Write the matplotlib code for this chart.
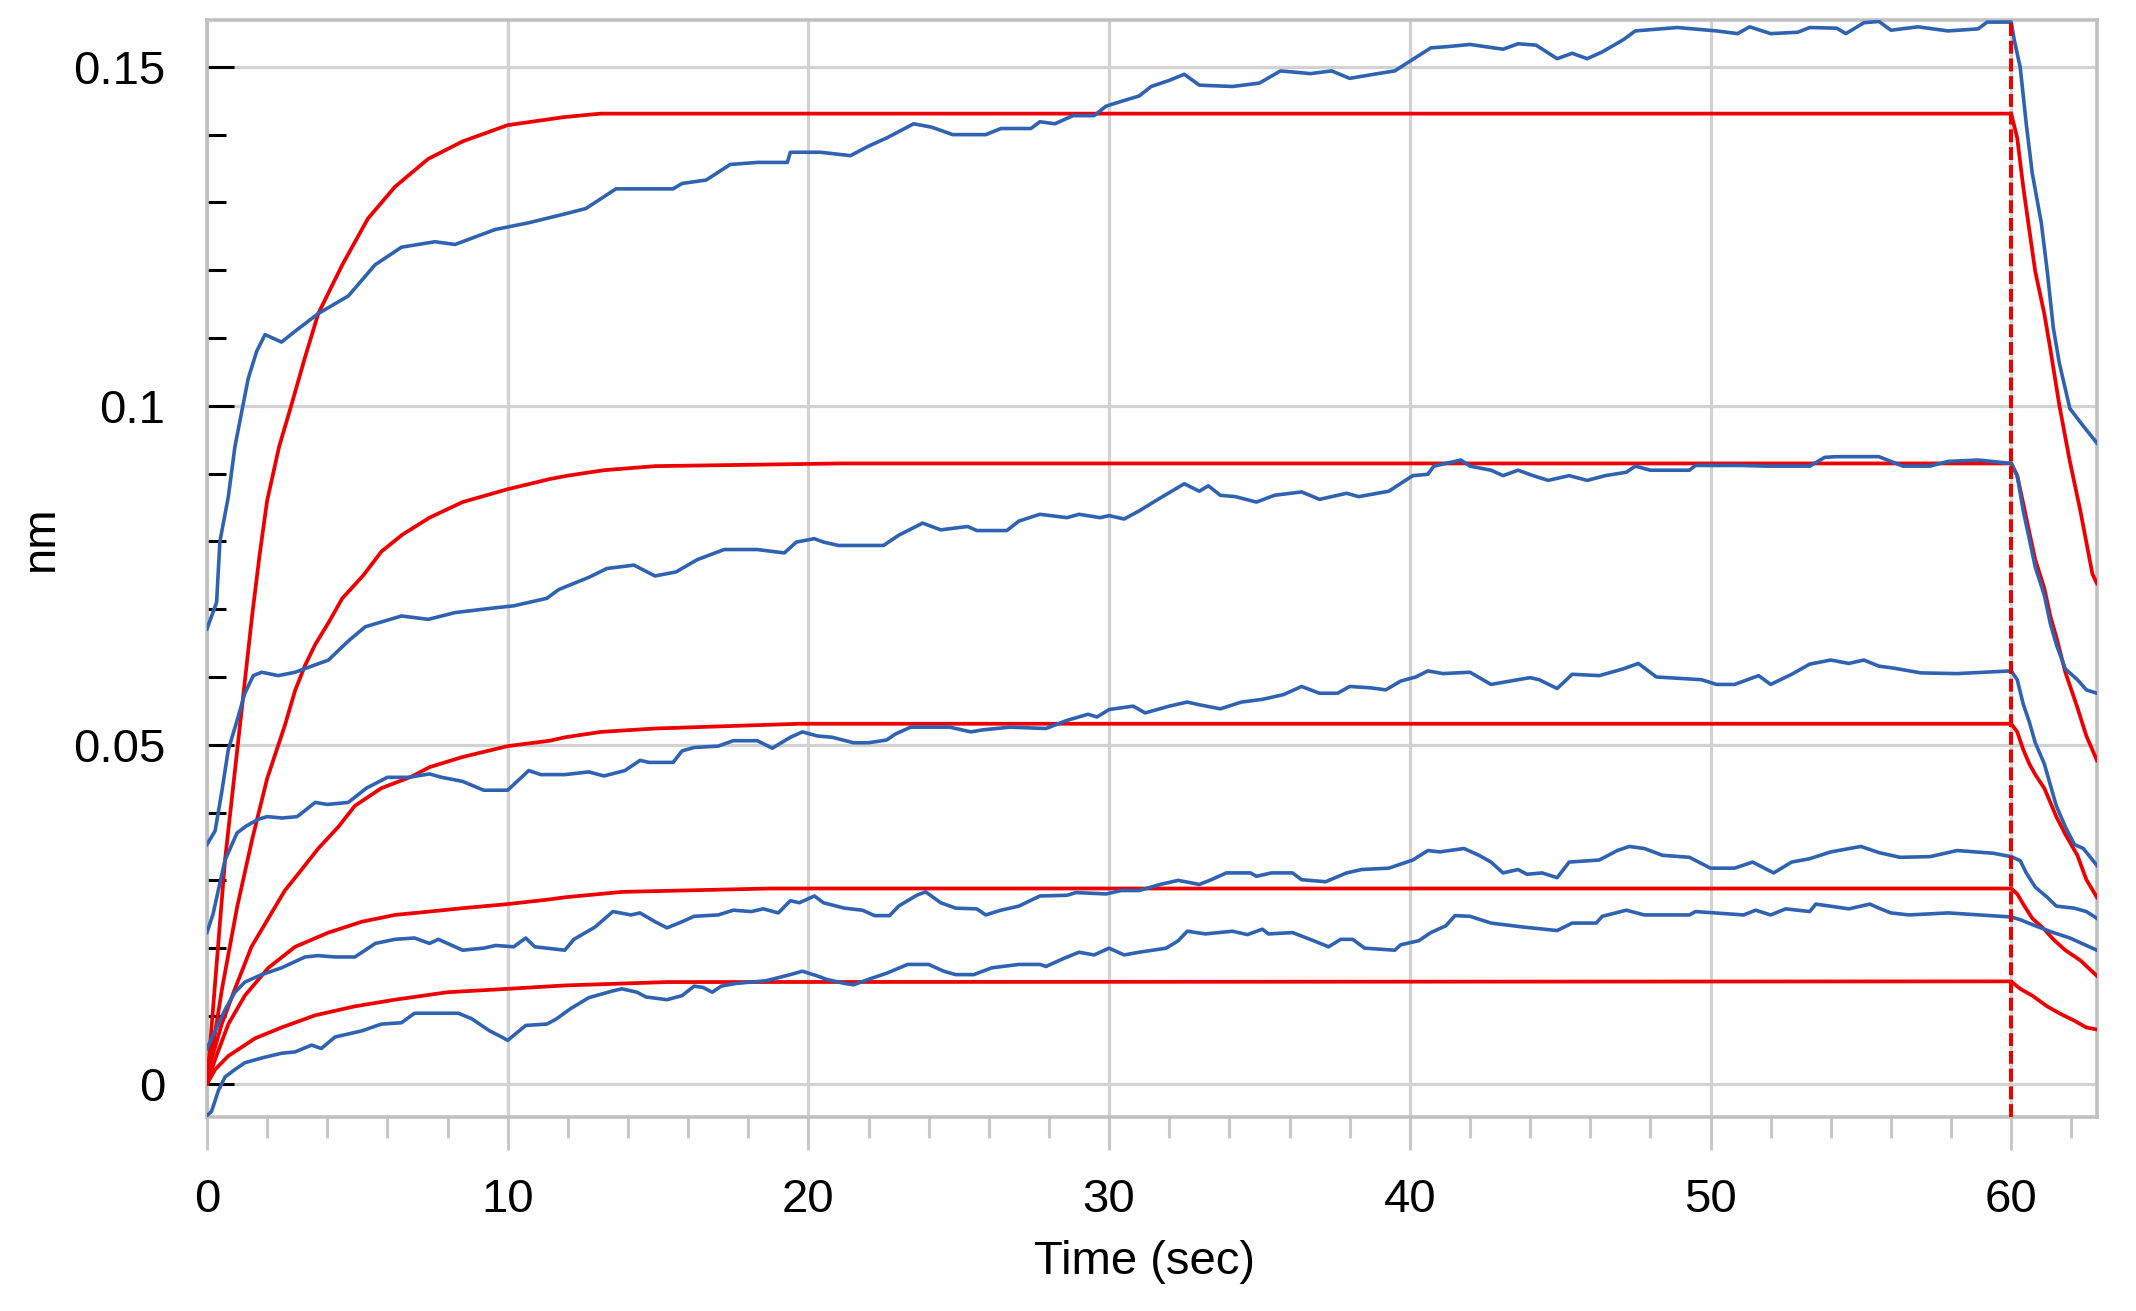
import matplotlib.pyplot as plt
from matplotlib.ticker import FixedLocator, MultipleLocator

plt.rcParams['font.family'] = ['Liberation Sans', 'DejaVu Sans']

b1_t = [0, 0.32, 0.43, 0.71, 0.93, 1.15, 1.37, 1.65, 1.93, 2.48, 2.93, 3.7, 4.7, 5.59, 6.47, 7.58, 8.25, 9.58,
        10.7, 11.9, 12.6, 13.6, 14.6, 15.5, 15.8, 16.6, 17.4, 18.3, 19.3, 19.4, 20.4, 21.4, 22.0, 22.6, 23.5,
        24.1, 24.8, 25.9, 26.4, 27.4, 27.7, 28.2, 28.8, 29.5, 29.9, 30.4, 31.0, 31.4, 32.0, 32.5, 33.0, 34.1,
        35.0, 35.7, 36.7, 37.4, 38.0, 38.8, 39.5, 40.1, 40.7, 41.3, 42.0, 43.1, 43.6, 44.2, 44.9, 45.4, 45.9,
        46.4, 47.1, 47.5, 48.9, 50.2, 50.9, 51.3, 52.0, 52.9, 53.3, 54.2, 54.5, 55.1, 55.6, 56.0, 56.9, 57.9,
        58.9, 59.2, 60.0, 60.1, 60.3, 60.5, 60.7, 61.0, 61.2, 61.4, 61.6, 61.95, 62.4, 62.85]
b1_v = [0.0671, 0.071, 0.080, 0.0866, 0.094, 0.099, 0.104, 0.108, 0.1105, 0.1094, 0.111, 0.1136, 0.1162, 0.1208,
        0.1234, 0.1242, 0.1238, 0.126, 0.127, 0.1283, 0.1291, 0.132, 0.132, 0.132, 0.1328, 0.1333, 0.1356,
        0.1359, 0.1359, 0.1374, 0.1374, 0.1369, 0.1383, 0.1395, 0.1416, 0.1411, 0.140, 0.140, 0.1409, 0.1409,
        0.1419, 0.1416, 0.1428, 0.1428, 0.1442, 0.1449, 0.1457, 0.1471, 0.148, 0.1489, 0.1473, 0.1471, 0.1476,
        0.1494, 0.149, 0.1494, 0.1483, 0.1489, 0.1494, 0.1511, 0.1528, 0.153, 0.1533, 0.1526, 0.1534, 0.1532,
        0.1512, 0.152, 0.1512, 0.1522, 0.154, 0.1553, 0.1558, 0.1553, 0.1549, 0.1559, 0.1549, 0.1551, 0.1558,
        0.1557, 0.1549, 0.1565, 0.1567, 0.1554, 0.1559, 0.1553, 0.1556, 0.1566, 0.1566, 0.154, 0.1499, 0.1416,
        0.1343, 0.127, 0.1198, 0.1115, 0.1063, 0.0996, 0.097, 0.0945]

b2_t = [0, 0.27, 0.49, 0.71, 0.99, 1.26, 1.54, 1.82, 2.37, 2.93, 4.04, 4.7, 5.26, 6.47, 7.36, 8.25, 9.58, 10.2,
        11.3, 11.7, 12.7, 13.3, 14.2, 14.9, 15.6, 16.3, 17.2, 18.3, 19.2, 19.6, 20.2, 20.5, 21.0, 22.5, 23.0,
        23.8, 24.4, 25.3, 25.6, 26.6, 27.0, 27.7, 28.6, 29.0, 29.7, 30.0, 30.5, 31.0, 31.7, 32.5, 33.0, 33.3,
        33.7, 34.2, 34.9, 35.5, 36.4, 37.0, 37.9, 38.3, 39.3, 40.1, 40.6, 40.8, 41.7, 42.0, 42.7, 43.1, 43.6,
        44.1, 44.6, 45.3, 45.9, 46.5, 47.2, 47.5, 48.0, 49.3, 49.5, 51.0, 51.9, 53.3, 53.8, 54.2, 55.6, 56.0,
        56.4, 57.3, 57.9, 58.9, 60.0, 60.2, 60.4, 60.6, 60.8, 61.1, 61.3, 61.5, 61.8, 62.2, 62.5, 62.85]
b2_v = [0.0353, 0.0373, 0.043, 0.0493, 0.0534, 0.0576, 0.0602, 0.0607, 0.0602, 0.0607, 0.0625, 0.0653, 0.0674,
        0.069, 0.0685, 0.0695, 0.0702, 0.0705, 0.0716, 0.0729, 0.0747, 0.076, 0.0765, 0.0749, 0.0755, 0.0773,
        0.0788, 0.0788, 0.0783, 0.0799, 0.0804, 0.0799, 0.0794, 0.0794, 0.0809, 0.0827, 0.0817, 0.0822, 0.0816,
        0.0816, 0.083, 0.084, 0.0835, 0.084, 0.0835, 0.0838, 0.0833, 0.0845, 0.0864, 0.0885, 0.0874, 0.0882,
        0.0868, 0.0866, 0.0858, 0.0868, 0.0873, 0.0862, 0.0871, 0.0866, 0.0874, 0.0897, 0.0899, 0.0911, 0.092,
        0.0911, 0.0905, 0.0897, 0.0905, 0.0897, 0.089, 0.0897, 0.089, 0.0897, 0.0902, 0.0911, 0.0905, 0.0905,
        0.0912, 0.0912, 0.0911, 0.0911, 0.0924, 0.0925, 0.0925, 0.0918, 0.0911, 0.0911, 0.0918, 0.092, 0.0915,
        0.0897, 0.0845, 0.0804, 0.0762, 0.0721, 0.0679, 0.0648, 0.0612, 0.0596, 0.0581, 0.0576]

b3_t = [0, 0.2, 0.4, 0.6, 0.8, 1.0, 1.3, 1.7, 2.0, 2.5, 3.0, 3.6, 4.0, 4.7, 5.3, 6.0, 6.7, 7.4, 7.8, 8.5, 9.2,
        10.0, 10.7, 11.1, 11.9, 12.7, 13.2, 13.9, 14.4, 14.7, 15.5, 15.8, 16.2, 17.0, 17.5, 18.3, 18.8, 19.4,
        19.8, 20.3, 20.8, 21.5, 22.0, 22.6, 22.9, 23.4, 24.7, 25.4, 25.8, 26.7, 27.9, 28.6, 29.3, 29.6, 30.0,
        30.8, 31.2, 32.0, 32.6, 33.0, 33.7, 34.4, 35.1, 35.8, 36.4, 37.0, 37.6, 38.0, 38.7, 39.2, 39.7, 40.2,
        40.6, 41.1, 42.0, 42.7, 43.6, 44.0, 44.3, 44.9, 45.4, 46.3, 47.1, 47.6, 48.2, 49.7, 50.2, 50.8, 51.6,
        52.0, 52.7, 53.3, 54.0, 54.6, 55.1, 55.6, 56.1, 57.0, 58.2, 60.0, 60.2, 60.4, 60.6, 60.8, 61.1, 61.3,
        61.5, 61.8, 62.1, 62.4, 62.85]
b3_v = [0.0223, 0.025, 0.029, 0.033, 0.035, 0.037, 0.038, 0.039, 0.0394, 0.0392, 0.0394, 0.0415, 0.0412, 0.0415,
        0.0436, 0.0452, 0.0452, 0.0457, 0.0452, 0.0446, 0.0433, 0.0433, 0.0462, 0.0456, 0.0456, 0.046, 0.0454,
        0.0462, 0.0477, 0.0474, 0.0474, 0.0491, 0.0496, 0.0498, 0.0506, 0.0506, 0.0495, 0.0511, 0.0519, 0.0513,
        0.0511, 0.0503, 0.0503, 0.0507, 0.0516, 0.0526, 0.0526, 0.0519, 0.0522, 0.0526, 0.0524, 0.0536, 0.0545,
        0.0541, 0.0552, 0.0557, 0.0547, 0.0557, 0.0563, 0.0559, 0.0553, 0.0563, 0.0567, 0.0574, 0.0586, 0.0576,
        0.0576, 0.0586, 0.0584, 0.0581, 0.0594, 0.06, 0.0609, 0.0605, 0.0607, 0.0589, 0.0596, 0.0599, 0.0596,
        0.0583, 0.0604, 0.0602, 0.0612, 0.062, 0.06, 0.0596, 0.0589, 0.0589, 0.0602, 0.0589, 0.0604, 0.0619,
        0.0625, 0.062, 0.0625, 0.0616, 0.0613, 0.0606, 0.0605, 0.0609, 0.0596, 0.056, 0.0534, 0.0503, 0.0472,
        0.0441, 0.041, 0.0379, 0.0353, 0.0347, 0.0322]

b4_t = [0, 0.27, 0.6, 0.93, 1.26, 1.82, 2.48, 3.26, 3.7, 4.26, 4.92, 5.6, 6.25, 6.9, 7.4, 7.7, 8.5, 9.2, 9.6,
        10.2, 10.6, 10.9, 11.9, 12.2, 12.9, 13.5, 14.1, 14.4, 14.9, 15.3, 15.8, 16.2, 17.0, 17.5, 18.1, 18.5,
        19.0, 19.4, 19.7, 20.2, 20.5, 21.2, 21.8, 22.2, 22.7, 23.0, 23.6, 23.9, 24.4, 24.9, 25.6, 25.9, 26.4,
        27.0, 27.7, 28.6, 28.9, 29.9, 30.4, 31.0, 31.7, 32.3, 33.0, 33.4, 33.9, 34.7, 34.9, 35.4, 36.1, 36.4,
        37.2, 37.9, 38.4, 39.3, 40.1, 40.6, 41.0, 41.8, 42.3, 42.7, 43.1, 43.6, 43.9, 44.4, 44.9, 45.3, 46.3,
        46.9, 47.3, 47.8, 48.4, 49.3, 50.0, 50.8, 51.4, 52.1, 52.7, 53.3, 54.0, 55.0, 55.6, 56.3, 57.3, 58.2,
        59.4, 60.0, 60.3, 60.5, 60.8, 61.2, 61.5, 62.1, 62.5, 62.85]
b4_v = [0.0052, 0.0078, 0.0109, 0.0135, 0.015, 0.0161, 0.0171, 0.0187, 0.0189, 0.0187, 0.0187, 0.0207, 0.0213,
        0.0215, 0.0207, 0.0213, 0.0197, 0.02, 0.0204, 0.0202, 0.0215, 0.0202, 0.0197, 0.0213, 0.0231, 0.0254,
        0.0249, 0.0252, 0.0239, 0.023, 0.0239, 0.0247, 0.0249, 0.0256, 0.0254, 0.0258, 0.0252, 0.027, 0.0267,
        0.0277, 0.0267, 0.0259, 0.0256, 0.0248, 0.0248, 0.0262, 0.0278, 0.0283, 0.0267, 0.0259, 0.0258, 0.0249,
        0.0256, 0.0262, 0.0277, 0.0278, 0.0282, 0.028, 0.0285, 0.0285, 0.0294, 0.03, 0.0294, 0.0301, 0.0311,
        0.0311, 0.0306, 0.0311, 0.0311, 0.0301, 0.0298, 0.0311, 0.0316, 0.0318, 0.033, 0.0344, 0.0342, 0.0347,
        0.0337, 0.0327, 0.0311, 0.0316, 0.0309, 0.0311, 0.0304, 0.0327, 0.033, 0.0344, 0.035, 0.0347, 0.0337,
        0.0334, 0.0318, 0.0318, 0.0327, 0.0311, 0.0327, 0.0332, 0.0342, 0.035, 0.0341, 0.0334, 0.0335, 0.0344,
        0.034, 0.0335, 0.0329, 0.0311, 0.029, 0.0275, 0.0262, 0.0259, 0.0254, 0.0244]

b5_t = [0, 0.15, 0.38, 0.6, 0.93, 1.26, 1.82, 2.48, 2.93, 3.48, 3.8, 4.26, 5.15, 5.8, 6.47, 6.9, 7.58, 8.36, 8.8,
        9.4, 9.8, 10.0, 10.6, 11.3, 11.6, 12.1, 12.7, 13.5, 13.8, 14.3, 14.6, 15.3, 15.8, 16.2, 16.5, 16.8,
        17.1, 17.6, 18.6, 19.4, 19.8, 20.3, 20.6, 21.2, 21.5, 22.0, 22.6, 23.3, 24.0, 24.5, 24.9, 25.5, 26.1,
        27.0, 27.7, 27.9, 28.5, 29.0, 29.5, 30.0, 30.5, 31.0, 31.9, 32.3, 32.6, 33.2, 34.1, 34.6, 35.1, 35.3,
        36.1, 36.8, 37.3, 37.7, 38.1, 38.5, 39.5, 39.7, 40.3, 40.7, 41.2, 41.5, 42.0, 42.7, 43.8, 44.9, 45.4,
        46.2, 46.4, 47.2, 47.8, 49.3, 49.5, 51.1, 51.5, 52.0, 52.5, 53.3, 53.5, 54.6, 55.3, 55.6, 56.0, 56.6,
        57.9, 60.0, 60.3, 60.8, 61.4, 61.95, 62.5, 62.85]
b5_v = [-0.0047, -0.0041, -0.001, 0.001, 0.0021, 0.0031, 0.0038, 0.0045, 0.0047, 0.0057, 0.0052, 0.0069, 0.0078,
        0.0088, 0.009, 0.0104, 0.0104, 0.0104, 0.0096, 0.0078, 0.0069, 0.0064, 0.0086, 0.0088, 0.0095, 0.0111,
        0.0127, 0.0137, 0.014, 0.0135, 0.0128, 0.0124, 0.013, 0.0144, 0.0142, 0.0135, 0.0144, 0.0148, 0.0152,
        0.0161, 0.0166, 0.0159, 0.0154, 0.0148, 0.0146, 0.0154, 0.0163, 0.0176, 0.0176, 0.0166, 0.0161, 0.0161,
        0.0171, 0.0176, 0.0176, 0.0173, 0.0185, 0.0194, 0.019, 0.02, 0.019, 0.0194, 0.02, 0.0211, 0.0225, 0.0221,
        0.0225, 0.022, 0.0228, 0.0221, 0.0223, 0.0211, 0.0202, 0.0213, 0.0213, 0.02, 0.0197, 0.0205, 0.0211,
        0.0223, 0.0233, 0.0248, 0.0247, 0.0237, 0.0231, 0.0226, 0.0237, 0.0237, 0.0247, 0.0256, 0.0249, 0.0249,
        0.0254, 0.0249, 0.0256, 0.0249, 0.0258, 0.0254, 0.0265, 0.0258, 0.0265, 0.0259, 0.0252, 0.0249, 0.0252,
        0.0246, 0.0242, 0.0233, 0.0223, 0.0215, 0.0204, 0.0197]

# fitted curves (red)
r1_t = [0, 0.2, 0.4, 0.6, 0.8, 1.0, 1.25, 1.5, 1.75, 2.0, 2.4, 2.8, 3.25, 3.7, 4.5, 5.35, 6.25, 7.35, 8.5, 10.0,
        11.9, 13.1, 60.0, 60.2, 60.4, 60.6, 60.8, 61.1, 61.3, 61.6, 61.95, 62.3, 62.7, 62.85]
r1_v = [0, 0.011, 0.022, 0.033, 0.041, 0.049, 0.059, 0.069, 0.078, 0.086, 0.094, 0.1, 0.107, 0.1136, 0.1208,
        0.1276, 0.1323, 0.1364, 0.139, 0.1414, 0.1426, 0.1431, 0.1431, 0.1395, 0.1323, 0.126, 0.1198, 0.1136,
        0.1084, 0.1001, 0.0918, 0.0845, 0.0752, 0.0738]

r2_t = [0, 0.5, 1.0, 1.5, 2.0, 2.3, 2.6, 2.93, 3.26, 3.6, 4.04, 4.5, 5.2, 5.8, 6.5, 7.4, 8.5, 10.0, 11.4, 12.0,
        13.2, 14.9, 21.1, 60.0, 60.2, 60.4, 60.6, 60.8, 61.1, 61.3, 61.5, 61.8, 62.2, 62.5, 62.85]
r2_v = [0, 0.014, 0.026, 0.036, 0.045, 0.049, 0.053, 0.058, 0.0617, 0.0648, 0.068, 0.0716, 0.075, 0.0785, 0.081,
        0.0835, 0.0858, 0.0877, 0.0892, 0.0897, 0.0905, 0.0911, 0.0915, 0.0915, 0.0897, 0.0856, 0.0814, 0.0773,
        0.0731, 0.069, 0.0659, 0.0607, 0.0555, 0.0513, 0.0477]

r3_t = [0, 0.15, 0.49, 0.93, 1.48, 2.04, 2.59, 3.15, 3.7, 4.37, 4.92, 5.8, 6.8, 7.4, 8.5, 10.0, 11.4, 11.9, 13.1,
        14.9, 19.7, 60.0, 60.2, 60.4, 60.6, 60.8, 61.1, 61.3, 61.5, 61.8, 62.2, 62.5, 62.85]
r3_v = [0, 0.0036, 0.0088, 0.014, 0.0202, 0.0244, 0.0285, 0.0316, 0.0347, 0.0379, 0.041, 0.0436, 0.0453, 0.0467,
        0.0482, 0.0498, 0.0506, 0.0511, 0.0519, 0.0524, 0.0531, 0.0531, 0.0519, 0.0493, 0.0472, 0.0456, 0.0436,
        0.0415, 0.0394, 0.0368, 0.0337, 0.0301, 0.0275]

r4_t = [0, 0.27, 0.71, 1.26, 2.04, 2.93, 4.04, 5.15, 6.25, 7.4, 8.5, 10.0, 11.4, 11.9, 13.8, 18.7, 60.0, 60.2,
        60.4, 60.7, 61.1, 61.4, 61.8, 62.3, 62.85]
r4_v = [0, 0.0036, 0.0088, 0.013, 0.0171, 0.0202, 0.0223, 0.0239, 0.0249, 0.0254, 0.0259, 0.0265, 0.0272, 0.0275,
        0.0283, 0.0288, 0.0288, 0.028, 0.0265, 0.0244, 0.0228, 0.0213, 0.0197, 0.0182, 0.0159]

r5_t = [0, 0.27, 0.71, 1.6, 2.48, 3.6, 4.9, 6.25, 8.0, 10.0, 11.9, 15.3, 60.0, 60.3, 60.7, 61.2, 61.6, 62.1,
        62.5, 62.85]
r5_v = [0, 0.0021, 0.0041, 0.0067, 0.0083, 0.0101, 0.0114, 0.0124, 0.0135, 0.014, 0.0145, 0.015, 0.0151, 0.014,
        0.013, 0.0114, 0.0104, 0.0093, 0.0083, 0.008]

blue_t = [b1_t, b2_t, b3_t, b4_t, b5_t]
blue_v = [b1_v, b2_v, b3_v, b4_v, b5_v]
red_t = [r1_t, r2_t, r3_t, r4_t, r5_t]
red_v = [r1_v, r2_v, r3_v, r4_v, r5_v]

dissoc_start = 60
x_ticks = [0, 10, 20, 30, 40, 50, 60]
x_labels = ['0', '10', '20', '30', '40', '50', '60']
y_ticks = [0, 0.05, 0.1, 0.15]
y_labels = ['0', '0.05', '0.1', '0.15']

blue = '#2f62b0'
red = '#ee0000'

fig = plt.figure(figsize=(21.36, 13.11), dpi=100)
ax = fig.add_axes([0.0969, 0.148, 0.8848, 0.8367])

for t, v in zip(red_t, red_v):
    ax.plot(t, v, color=red, lw=2.7, zorder=3)
for t, v in zip(blue_t, blue_v):
    ax.plot(t, v, color=blue, lw=2.6, zorder=4)

ax.axvline(dissoc_start, color=red, lw=2.9, ls=(0, (3.2, 1.2)), zorder=5)

ax.set_xlim(0, 62.85)
ax.set_ylim(-0.0049, 0.1569)

ax.xaxis.set_major_locator(FixedLocator(x_ticks))
ax.set_xticklabels(x_labels)
ax.xaxis.set_minor_locator(MultipleLocator(2))
ax.yaxis.set_major_locator(FixedLocator(y_ticks))
ax.set_yticklabels(y_labels)
ax.yaxis.set_minor_locator(MultipleLocator(0.01))

ax.set_axisbelow(True)
ax.grid(True, which='major', color='#d2d2d2', lw=2.3)

for s in ax.spines.values():
    s.set_color('#c0c0c0')
    s.set_linewidth(2.6)

ax.tick_params(axis='y', which='both', direction='in', color='black', width=2.2, labelsize=34, pad=30)
ax.tick_params(axis='y', which='major', length=19.5)
ax.tick_params(axis='y', which='minor', length=13.7)
ax.tick_params(axis='x', which='both', direction='out', color='#c8c8c8', width=2.2, labelsize=34, pad=20)
ax.tick_params(axis='x', which='major', length=24)
ax.tick_params(axis='x', which='minor', length=15)

ax.set_xlabel('Time (sec)', fontsize=34)
ax.xaxis.set_label_coords(0.496, -0.112)
ax.set_ylabel('nm', fontsize=34)
ax.yaxis.set_label_coords(-0.076, 0.528)

plt.savefig('out.png', dpi=100)
